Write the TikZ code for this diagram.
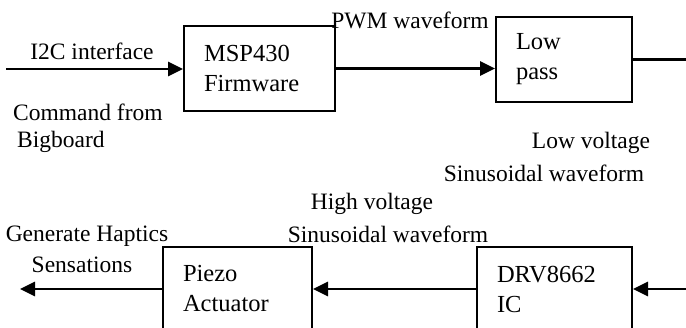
\documentclass[tikz,border=0pt]{standalone}
\usepackage{fontspec}
\setmainfont{Liberation Serif}
\usetikzlibrary{arrows.meta,positioning}

\begin{document}
\begin{tikzpicture}[x=1pt, y=-1pt,
    every node/.style={font=\fontsize{23.5}{30}\selectfont, inner sep=0pt},
    box/.style={rectangle, draw, line width=2pt, inner xsep=20pt,
                align=left, minimum height=85pt, font=\fontsize{24.5}{30}\selectfont},
    arrow/.style={-{Triangle[length=15pt,width=14pt]}, line width=2.8pt},
    wire/.style={line width=2.8pt}
]
\useasboundingbox (0,0) rectangle (686,328);
\clip (0,0) rectangle (686,328);

% blocks
\node[box, text width=111pt] (msp) at (259.5,68.5) {MSP430\\Firmware};
\node[box, text width=96pt] (lp) at (564,59.5) {Low\\pass};
\node[box, text width=109pt, minimum height=84pt] (piezo) at (237.5,289) {Piezo\\Actuator};
\node[box, text width=115pt, minimum height=84pt] (drv) at (554.5,289) {DRV8662\\IC};

% free ends
\coordinate (cmdin) at (6,69);
\coordinate (lpout) at (686,61);
\coordinate (hvin) at (686,289);
\coordinate (hapout) at (20,289);

% connectors
\draw[arrow] (cmdin) -- (cmdin -| msp.west);
\draw[arrow] (msp.east) -- (msp.east -| lp.west);
\draw[wire] (lp.east) -- (lp.east -| lpout);
\draw[arrow] (hvin) -- (drv.east);
\draw[arrow] (drv.west) -- (piezo.east);
\draw[arrow] (piezo.west) -- (hapout);

% labels
\node (i2c) at (92,51) {I2C interface};
\node[anchor=west] (cmd) at (13,112) {Command from};
\node[anchor=west] (bigb) at (17,142) {Bigboard};
\node (pwm) at (410,20) {PWM waveform};
\node (lowv) at (591,143) {Low voltage};
\node (lowsin) at (544,173) {Sinusoidal waveform};
\node (highv) at (372,204) {High voltage};
\node (highsin) at (388,234) {Sinusoidal waveform};
\node (hapt) at (87,236) {Generate Haptics};
\node (sens) at (82,265) {Sensations};
\end{tikzpicture}
\end{document}
